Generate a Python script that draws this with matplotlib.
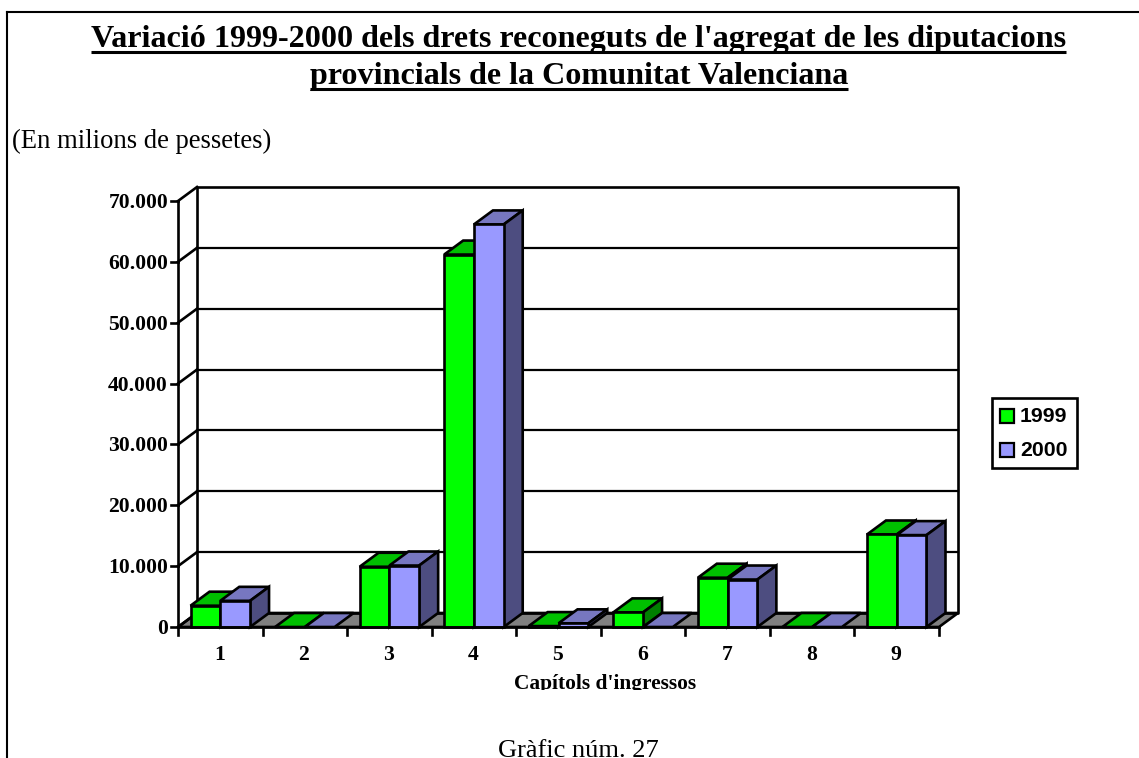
import matplotlib
matplotlib.use("Agg")
import matplotlib.pyplot as plt
from matplotlib.patches import Polygon, Rectangle
from matplotlib.transforms import Bbox

W, H = 1139, 758

categories = ["1", "2", "3", "4", "5", "6", "7", "8", "9"]
values_1999 = [3500, 0, 9900, 61200, 150, 2400, 8100, 0, 15200]
values_2000 = [4300, 0, 10100, 66150, 600, 0, 7800, 0, 15100]
y_ticks = [0, 10000, 20000, 30000, 40000, 50000, 60000, 70000]
y_labels = ["0", "10.000", "20.000", "30.000", "40.000", "50.000", "60.000", "70.000"]

GREEN = ("#00ff00", "#00c000", "#008000")
BLUE = ("#9999ff", "#7777c0", "#4d4d80")
GREY = "#808080"

plt.rcParams["font.family"] = ["Liberation Serif"]


def px_x(x):
    return x / W


def px_y(y):
    return 1 - y / H


fig = plt.figure(figsize=(W / 100, H / 100), dpi=100)
# front plane of the 3d box
ax = fig.add_axes([px_x(178), px_y(627), (939 - 178) / W, (627 - 201) / H])
ax.set_xlim(0, 9)
ax.set_ylim(0, 70000)
ax.axis("off")

X_PX = 761 / 9
Y_PX = 426 / 70000
# depth of the box in data units (19 px right, 14 px up)
DX = 19 / X_PX
DY = 14 / Y_PX
BAR_W = 0.352
GAP = (1 - 2 * BAR_W) / 2
LW = 1.9


def poly(points, color, z, edge="black", lw=LW):
    ax.add_patch(Polygon(points, closed=True, facecolor=color, edgecolor=edge,
                         linewidth=lw, joinstyle="miter", clip_on=False, zorder=z))


def line(xs, ys, z=1, lw=LW):
    ax.plot(xs, ys, color="black", linewidth=lw, clip_on=False, zorder=z,
            solid_capstyle="projecting")


def bar3d(x, value, colors, z):
    top = [(x, value), (x + DX, value + DY), (x + BAR_W + DX, value + DY), (x + BAR_W, value)]
    poly(top, colors[1], z)
    if value == 0:
        # empty bars only leave a flat coloured patch on the floor
        return
    side = [(x + BAR_W, 0), (x + BAR_W + DX, DY), (x + BAR_W + DX, value + DY), (x + BAR_W, value)]
    poly(side, colors[2], z)
    ax.add_patch(Rectangle((x, 0), BAR_W, value, facecolor=colors[0], edgecolor="black",
                           linewidth=LW, clip_on=False, zorder=z + 0.1))


# floor
poly([(0, 0), (DX, DY), (9 + DX, DY), (9, 0)], GREY, 1)

# back wall and grid
for t in y_ticks[1:-1]:
    line([DX, 9 + DX], [t + DY, t + DY], lw=1.6)
line([DX, 9 + DX, 9 + DX, DX, DX], [DY, DY, 70000 + DY, 70000 + DY, DY], z=1.5)

# left wall and ticks
line([0, 0], [0, 70000], z=1.5)
for t, lab in zip(y_ticks, y_labels):
    line([0, DX], [t, t + DY], z=1.5)
    line([-7 / X_PX, 0], [t, t], z=1.5)
    ax.text(-10 / X_PX, t - 2 / Y_PX, lab, ha="right", va="center", fontsize=15.6, fontweight="bold")

# bars, left to right so the later ones overlap
for i in range(len(categories)):
    bar3d(i + GAP, values_1999[i], GREEN, 3 + i)
    bar3d(i + GAP + BAR_W, values_2000[i], BLUE, 3.5 + i)

# front edge and category ticks
line([0, 9], [0, 0], z=20)
for i in range(len(categories) + 1):
    ax.plot([i, i], [0, -8 / Y_PX], color="black", linewidth=LW, clip_on=False, zorder=20)
for i, c in enumerate(categories):
    ax.text(i + 0.49, -28.5 / Y_PX, c, ha="center", va="center", fontsize=15.6, fontweight="bold")
axis_title = ax.text(5.05, -62 / Y_PX, "Capítols d'ingressos", ha="center", va="baseline",
                     fontsize=15.4, fontweight="bold")
# the source image cuts the descenders of this label
axis_title.set_clip_on(True)
axis_title.set_clip_box(Bbox([[0, H - 690], [W, H]]))

# legend box
sans = ["Liberation Sans"]
fig.add_artist(Rectangle((px_x(992), px_y(468)), 85 / W, 70 / H, transform=fig.transFigure,
                         facecolor="white", edgecolor="black", linewidth=1.9))
for name, col, y in [("1999", GREEN[0], 416), ("2000", BLUE[0], 450)]:
    fig.add_artist(Rectangle((px_x(1000), px_y(y + 7)), 14 / W, 14 / H, transform=fig.transFigure,
                             facecolor=col, edgecolor="black", linewidth=1.6))
    fig.text(px_x(1020), px_y(y), name, family=sans, fontsize=15.3, fontweight="bold", ha="left", va="center")

# page text
title_1 = fig.text(px_x(578.5), px_y(46.5), "Variació 1999-2000 dels drets reconeguts de l'agregat de les diputacions",
                   ha="center", va="baseline", fontsize=23.15, fontweight="bold")
title_2 = fig.text(px_x(579), px_y(84), "provincials de la Comunitat Valenciana",
                   ha="center", va="baseline", fontsize=23.15, fontweight="bold")
fig.canvas.draw()
for t, y in [(title_1, 51.5), (title_2, 88.5)]:
    bb = t.get_window_extent()
    fig.add_artist(plt.Line2D([bb.x0 / W, bb.x1 / W], [px_y(y), px_y(y)], color="black",
                              linewidth=2.2, solid_capstyle="butt"))
fig.text(px_x(12), px_y(147.5), "(En milions de pessetes)", ha="left", va="baseline", fontsize=19.2)
fig.text(px_x(578), px_y(757), "Gràfic núm. 27", ha="center", va="baseline", fontsize=19)

# page border, open on the right
fig.add_artist(plt.Line2D([px_x(7), px_x(7)], [0, px_y(12)], color="black", linewidth=1.5))
fig.add_artist(plt.Line2D([px_x(7), 1], [px_y(12), px_y(12)], color="black", linewidth=1.5))

fig.savefig("out.png", dpi=100)
